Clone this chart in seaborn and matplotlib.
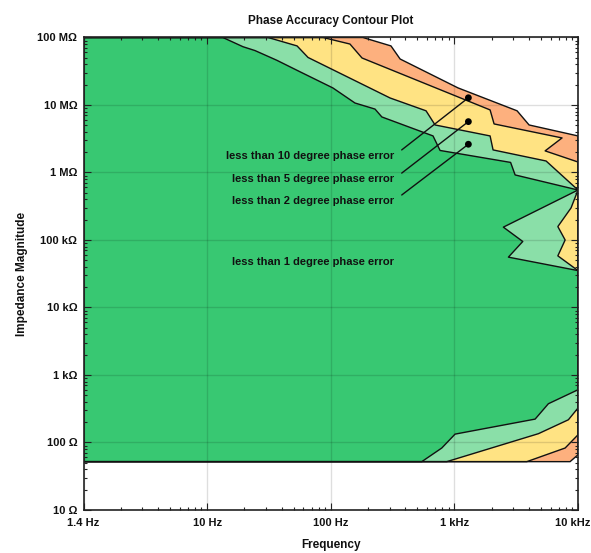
import matplotlib
matplotlib.use("Agg")
import matplotlib.pyplot as plt
import matplotlib.transforms as mtransforms
from matplotlib.ticker import FixedLocator, LogLocator, NullFormatter
import seaborn as sns

# axis ranges (Hz / ohm)
F_MIN, F_MAX = 1, 1e4
Z_MIN, Z_MAX = 10, 1e8
Z_FLOOR = 52  # lowest impedance covered by the measurement

# outer edge of each accuracy region, read from top edge -> right edge -> floor
err10_freq = [182, 307, 364, 1071, 3215, 4020, 1e4, 1e4, 8630]
err10_imp = [1e8, 7.5e7, 4.8e7, 1.79e7, 8.2e6, 5.06e6, 3.48e6, 65.8, 52]

err5_freq = [86.6, 143, 179, 1945, 2095, 7430, 5420, 1e4, 1e4, 7870, 3855]
err5_imp = [1e8, 8.0e7, 4.97e7, 8.45e6, 5.24e6, 3.25e6, 2.09e6, 1.43e6, 130, 82.8, 52]

err2_freq = [31.1, 53.4, 65.5, 302, 590, 698, 1945, 2056, 5520, 1e4,
             8790, 6870, 7870, 6870, 1e4, 1e4, 8360, 4785, 868]
err2_imp = [1e8, 7.5e7, 5.06e7, 1.27e7, 8.2e6, 5.06e6, 3.48e6, 2.16e6, 1.48e6, 5.5e5,
            2.99e5, 1.58e5, 1.0e5, 5.82e4, 3.52e4, 324, 217, 135, 52]

err1_freq = [13.4, 19.5, 24.4, 36.6, 56.5, 104, 157, 228, 259, 672, 766, 2850, 3100, 1e4,
             2490, 3575, 2735, 1e4, 1e4, 5760, 4500, 1013, 791, 545]
err1_imp = [1e8, 7.3e7, 6.4e7, 4.6e7, 3.1e7, 1.79e7, 1.07e7, 8.7e6, 6.65e6, 3.48e6, 2.12e6,
            1.41e6, 9.2e5, 5.5e5, 1.55e5, 9.5e4, 5.57e4, 3.52e4, 604, 375, 222, 133, 82.8, 52]

region_colors = ["#fdb07e", "#ffe383", "#8adfa8", "#38c872"]

# annotation labels and the points they refer to
note_labels = ["less than 10 degree phase error",
               "less than 5 degree phase error",
               "less than 2 degree phase error"]
note_dot_freq = [1298, 1298, 1298]
note_dot_imp = [1.28e7, 5.67e6, 2.62e6]
note_text_freq = 325
note_text_imp = [1.76e6, 8.0e5, 3.8e5]
inner_label = "less than 1 degree phase error"
inner_label_imp = 4.74e4

x_ticks = [1, 10, 100, 1e3, 1e4]
x_tick_labels = ["1.4 Hz", "10 Hz", "100 Hz", "1 kHz", "10 kHz"]
y_ticks = [10, 100, 1e3, 1e4, 1e5, 1e6, 1e7, 1e8]
y_tick_labels = ["10 \u03a9", "100 \u03a9", "1 k\u03a9", "10 k\u03a9",
                 "100 k\u03a9", "1 M\u03a9", "10 M\u03a9", "100 M\u03a9"]

sns.set_style("ticks")
plt.rcParams["font.family"] = ["Liberation Sans", "DejaVu Sans"]

fig = plt.figure(figsize=(5.91, 5.53), dpi=100)
ax = fig.add_axes([0.1413, 0.0778, 0.8367, 0.8544])
ax.set_xscale("log")
ax.set_yscale("log")

# widest region first, each narrower one painted on top
regions = [(err10_freq, err10_imp), (err5_freq, err5_imp),
           (err2_freq, err2_imp), (err1_freq, err1_imp)]
for (fr, im), col in zip(regions, region_colors):
    px = [F_MIN, F_MIN] + list(fr) + [F_MIN]
    py = [Z_FLOOR, Z_MAX] + list(im) + [Z_FLOOR]
    ax.fill(px, py, facecolor=col, edgecolor="none", zorder=1)
for fr, im in regions:
    px = [F_MIN, F_MIN] + list(fr) + [F_MIN]
    py = [Z_FLOOR, Z_MAX] + list(im) + [Z_FLOOR]
    sns.lineplot(x=px, y=py, sort=False, estimator=None, color="#111111",
                 lw=1.0, ax=ax, zorder=3)

# leader lines + labels
for lab, df, di, ti in zip(note_labels, note_dot_freq, note_dot_imp, note_text_imp):
    ax.annotate(lab, xy=(df, di), xytext=(note_text_freq, ti), ha="right", va="center",
                fontsize=8, fontweight="bold", color="#111111", zorder=5,
                arrowprops=dict(arrowstyle="-", color="#111111", lw=1.0,
                                relpos=(1, 0.5), shrinkA=4, shrinkB=0))
sns.scatterplot(x=note_dot_freq, y=note_dot_imp, color="black", s=24, ax=ax,
                edgecolor="none", zorder=6)
ax.text(note_text_freq, inner_label_imp, inner_label, ha="right", va="center",
        fontsize=8, fontweight="bold", color="#111111", zorder=5)

ax.set_xlim(F_MIN, F_MAX)
ax.set_ylim(Z_MIN, Z_MAX)
ax.xaxis.set_major_locator(FixedLocator(x_ticks))
ax.set_xticklabels(x_tick_labels)
ax.yaxis.set_major_locator(FixedLocator(y_ticks))
ax.set_yticklabels(y_tick_labels)
for axis in (ax.xaxis, ax.yaxis):
    axis.set_minor_locator(LogLocator(base=10, subs=range(2, 10), numticks=50))
    axis.set_minor_formatter(NullFormatter())

ax.tick_params(which="both", direction="in", top=True, right=True, colors="#222222",
               width=0.8)
ax.tick_params(which="major", length=5)
ax.tick_params(which="minor", length=2.5)
ax.tick_params(axis="x", which="major", pad=5.5, labelsize=8)
ax.tick_params(axis="y", which="major", pad=4.5, labelsize=8)
for lab in ax.get_xticklabels() + ax.get_yticklabels():
    lab.set_fontweight("bold")
    lab.set_color("#111111")
# last x label sits a little left so it stays inside the image
last = ax.get_xticklabels()[-1]
last.set_transform(last.get_transform() +
                   mtransforms.ScaledTranslation(-4 / 72, 0, fig.dpi_scale_trans))

ax.set_axisbelow(False)
ax.grid(True, which="major", color="black", alpha=0.13, lw=1.0)
ax.grid(False, which="minor")

for sp in ax.spines.values():
    sp.set_color("#222222")
    sp.set_linewidth(1.2)
    sp.set_zorder(6)

ax.set_title("Phase Accuracy Contour Plot", fontsize=8.5, fontweight="bold",
             color="#111111", pad=10)
ax.set_xlabel("Frequency", fontsize=8.5, fontweight="bold", color="#111111", labelpad=8)
ax.set_ylabel("Impedance Magnitude", fontsize=8.5, fontweight="bold", color="#111111",
              labelpad=7)

fig.savefig("out.png", dpi=100)
